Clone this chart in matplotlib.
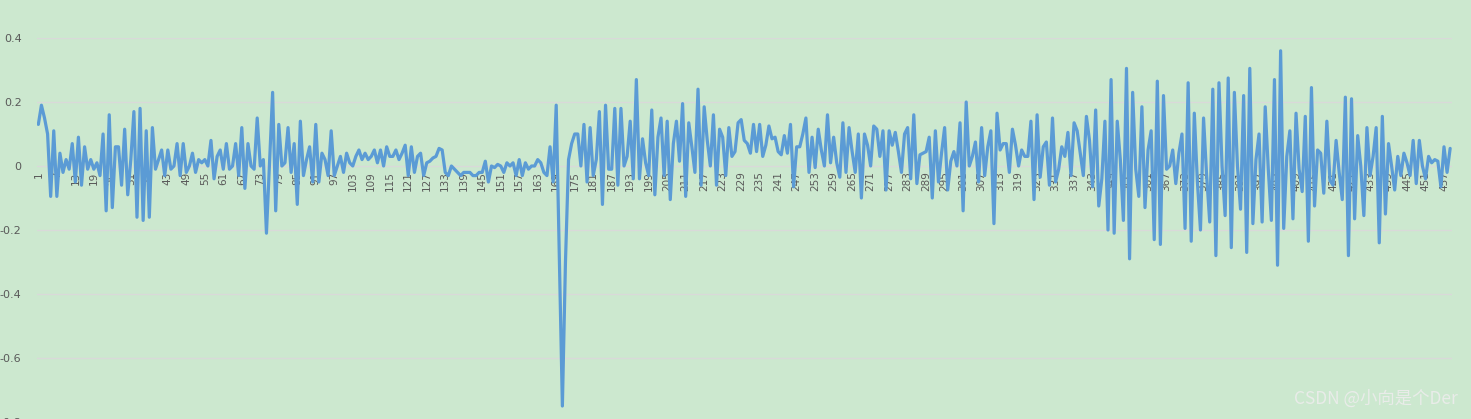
import matplotlib
matplotlib.use("Agg")
import matplotlib.pyplot as plt
import numpy as np

# ---- data ----
seg_001_037 = [0.13, 0.19, 0.15, 0.10, -0.095, 0.11, -0.095, 0.04, -0.02, 0.02,
               -0.01, 0.07, -0.05, 0.09, -0.06, 0.06, -0.01, 0.02, -0.01, 0.01,
               -0.03, 0.10, -0.14, 0.16, -0.13, 0.06, 0.06, -0.06, 0.115, -0.09,
               0.02, 0.17, -0.16, 0.18, -0.17, 0.11, -0.16]
seg_038_076 = [0.12, -0.01, 0.02, 0.05, -0.03, 0.05, -0.01, 0.0, 0.07, -0.03,
               0.07, -0.02, 0.0, 0.04, -0.02, 0.02, 0.01, 0.02, 0.0, 0.08,
               -0.04, 0.03, 0.05, -0.01, 0.07, -0.01, 0.0, 0.07, -0.03, 0.12,
               -0.07, 0.07, 0.0, -0.01, 0.15, 0.0, 0.02, -0.21, 0.01]
seg_077_115 = [0.23, -0.14, 0.13, 0.0, 0.01, 0.12, -0.02, 0.07, -0.12, 0.14,
               -0.03, 0.02, 0.06, -0.05, 0.13, -0.05, 0.04, 0.02, -0.03, 0.11,
               -0.03, 0.0, 0.03, -0.02, 0.04, 0.01, 0.0, 0.03, 0.05, 0.02,
               0.04, 0.02, 0.03, 0.05, 0.01, 0.05, 0.0, 0.06, 0.03]
seg_116_154 = [0.03, 0.05, 0.02, 0.04, 0.065, -0.03, 0.06, -0.02, 0.03, 0.04,
               -0.03, 0.01, 0.015, 0.025, 0.03, 0.055, 0.05, -0.02, -0.03, 0.0,
               -0.01, -0.02, -0.03, -0.02, -0.02, -0.02, -0.03, -0.03, -0.02, -0.02,
               0.015, -0.05, 0.0, -0.005, 0.005, 0.0, -0.02, 0.01, 0.0]
seg_155_193 = [0.01, -0.03, 0.02, -0.03, 0.01, -0.01, 0.0, 0.0, 0.02, 0.01,
               -0.02, -0.03, 0.06, -0.05, 0.19, -0.28, -0.75, -0.30, 0.02, 0.07,
               0.10, 0.10, 0.0, 0.13, -0.05, 0.12, -0.03, 0.02, 0.17, -0.12,
               0.19, -0.01, -0.01, 0.18, -0.06, 0.18, 0.0, 0.03, 0.14]
seg_194_232 = [-0.04, 0.27, -0.04, 0.085, 0.01, -0.03, 0.175, -0.09, 0.09, 0.15,
               -0.03, 0.14, -0.105, 0.07, 0.14, 0.015, 0.195, -0.095, 0.135, 0.06,
               -0.02, 0.24, -0.06, 0.185, 0.08, 0.0, 0.16, -0.06, 0.115, 0.09,
               -0.03, 0.12, 0.03, 0.045, 0.135, 0.145, 0.08, 0.07, 0.04]
seg_233_271 = [0.13, 0.045, 0.13, 0.03, 0.065, 0.125, 0.085, 0.09, 0.045, 0.035,
               0.095, 0.04, 0.13, -0.065, 0.06, 0.06, 0.10, 0.15, -0.02, 0.09,
               -0.005, 0.115, 0.05, 0.0, 0.16, 0.01, 0.09, 0.01, -0.035, 0.135,
               -0.02, 0.12, 0.045, -0.02, 0.10, -0.10, 0.10, 0.065, 0.0]
seg_272_310 = [0.125, 0.115, 0.03, 0.11, -0.075, 0.11, 0.065, 0.105, 0.045, -0.02,
               0.10, 0.12, -0.04, 0.16, -0.055, 0.035, 0.04, 0.045, 0.09, -0.10,
               0.11, -0.05, 0.04, 0.12, -0.075, 0.015, 0.045, 0.0, 0.135, -0.14,
               0.20, 0.0, 0.03, 0.075, -0.05, 0.12, -0.03, 0.06, 0.11]
seg_311_349 = [-0.18, 0.165, 0.05, 0.07, 0.07, -0.02, 0.115, 0.065, 0.0, 0.05,
               0.03, 0.03, 0.14, -0.105, 0.16, -0.035, 0.06, 0.075, -0.06, 0.15,
               -0.05, -0.01, 0.06, 0.03, 0.105, -0.03, 0.135, 0.11, 0.04, -0.03,
               0.155, 0.08, -0.065, 0.175, -0.125, -0.04, 0.14, -0.20, 0.27]
seg_350_388 = [-0.21, 0.14, 0.02, -0.17, 0.305, -0.29, 0.23, -0.01, -0.095, 0.185,
               -0.13, 0.05, 0.11, -0.23, 0.265, -0.245, 0.22, -0.01, 0.0, 0.05,
               -0.055, 0.04, 0.10, -0.195, 0.26, -0.235, 0.165, -0.05, -0.20, 0.15,
               -0.03, -0.175, 0.24, -0.28, 0.26, 0.0, -0.155, 0.275, -0.255]
seg_389_427 = [0.23, 0.0, -0.135, 0.22, -0.27, 0.305, -0.18, 0.02, 0.10, -0.175,
               0.185, -0.01, -0.17, 0.27, -0.31, 0.36, -0.195, 0.03, 0.11, -0.165,
               0.165, -0.01, -0.08, 0.155, -0.235, 0.245, -0.125, 0.05, 0.04, -0.085,
               0.14, -0.045, -0.06, 0.08, -0.02, -0.105, 0.215, -0.28, 0.21]
seg_428_459 = [-0.165, 0.095, 0.0, -0.155, 0.12, -0.03, 0.03, 0.12, -0.24, 0.155,
               -0.15, 0.07, 0.0, -0.075, 0.03, -0.03, 0.04, 0.01, -0.03, 0.08,
               -0.055, 0.08, 0.0, -0.04, 0.03, 0.01, 0.02, 0.015, -0.065, 0.06,
               -0.02, 0.055]

values = (seg_001_037 + seg_038_076 + seg_077_115 + seg_116_154 + seg_155_193 +
          seg_194_232 + seg_233_271 + seg_272_310 + seg_311_349 + seg_350_388 +
          seg_389_427 + seg_428_459)
n = len(values)
x = np.arange(1, n + 1)

x_tick_pos = list(range(1, n + 1, 6))
x_tick_labels = [str(t) for t in x_tick_pos]
y_ticks = [0.4, 0.2, 0.0, -0.2, -0.4, -0.6, -0.8]
y_tick_labels = ["0.4", "0.2", "0", "-0.2", "-0.4", "-0.6", "-0.8"]

# ---- figure ----
W, H = 1471, 419
bg = "#CCE8CF"
fig = plt.figure(figsize=(W / 100, H / 100), dpi=100)
fig.patch.set_facecolor(bg)

L, R, T, B = 36.8, 1451.7, 38.0, 422.0
ax = fig.add_axes([L / W, (H - B) / H, (R - L) / W, (B - T) / H])
ax.set_facecolor(bg)

ax.plot(x, values, color="#5B9BD5", lw=2.3, solid_joinstyle="round",
        solid_capstyle="round", zorder=3)

ax.set_xlim(0.5, n + 0.5)
ax.set_ylim(-0.8, 0.4)
ax.set_yticks(y_ticks)
ax.set_yticklabels(y_tick_labels)
ax.grid(axis="y", color="#D9D9D9", lw=1.0)
ax.grid(axis="x", visible=False)
ax.set_axisbelow(True)
for s in ax.spines.values():
    s.set_color("none")
ax.spines["bottom"].set_position(("data", 0))

ax.set_xticks(x_tick_pos)
ax.set_xticklabels(x_tick_labels, rotation=90)
ax.tick_params(axis="x", length=0, pad=4, labelsize=7.5, labelcolor="#595959")
ax.tick_params(axis="y", length=0, pad=11, labelsize=8, labelcolor="#595959")

fig.text(1458 / W, (H - 399) / H, "CSDN @小向是个Der",
         family=["Noto Sans CJK SC", "DejaVu Sans"], fontsize=12.5,
         color="#E9ECE9", ha="right", va="center")

fig.savefig("out.png", dpi=100, facecolor=bg)
